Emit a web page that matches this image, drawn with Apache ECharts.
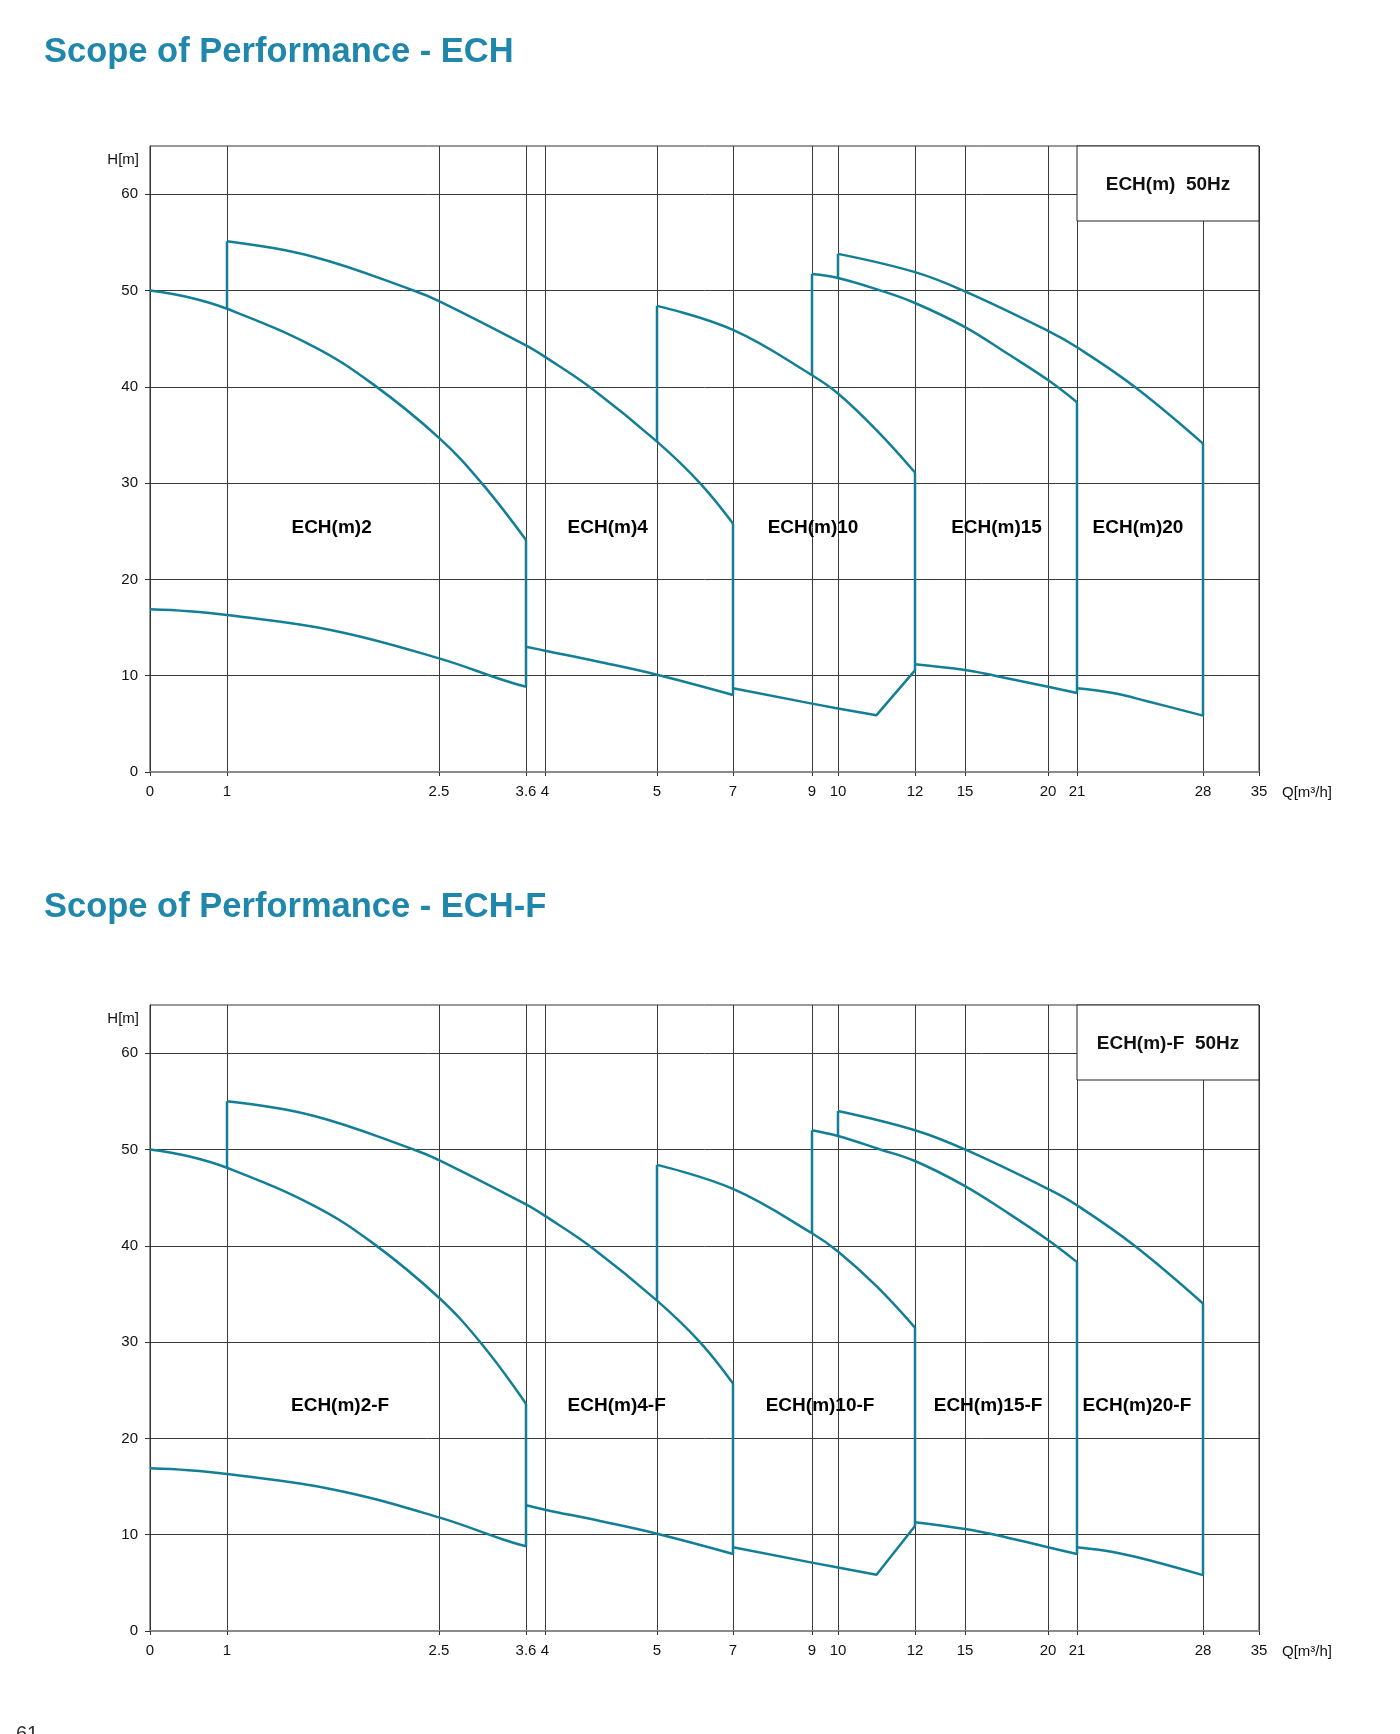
<!DOCTYPE html>
<html><head><meta charset="utf-8">
<script src="https://cdn.jsdelivr.net/npm/echarts@6/dist/echarts.min.js"></script>
<style>html,body{margin:0;padding:0;background:#fff}#c{width:1400px;height:1734px}</style>
</head><body><div id="c"></div>
<script>
// ---- axis definition (non-uniform Q scale) ----
const qTickValues = [0, 1, 2.5, 3.6, 4, 5, 7, 9, 10, 12, 15, 20, 21, 28, 35];
const qTickLabels = ['0', '1', '2.5', '3.6', '4', '5', '7', '9', '10', '12', '15', '20', '21', '28', '35'];
const qAxisStops  = [0, 77, 289, 376, 395, 507, 583, 662, 688, 765, 815, 898, 927, 1053, 1109];
const hTicks = [0, 10, 20, 30, 40, 50, 60];

// ---- ECH chart: curves [Q, H] ----
const ech2Upper  = [[0,50],[0.5,49.3],[1,48.1],[1.61,44.2],[2.03,40.3],[2.5,34.7],[3.04,30],[3.6,24.1]];
const ech2Lower  = [[0,16.9],[0.5,16.7],[1,16.3],[1.75,14.7],[2.5,11.8],[3.31,9.55],[3.6,8.85]];
const ech4Upper  = [[1,55.1],[1.61,53.5],[2.32,50],[2.5,48.9],[3.6,44.3],[4,43.1],[4.42,39.8],[5,34.3],[6.13,30],[7,25.8]];
const ech4Lower  = [[3.6,13.0],[4,12.6],[4.5,11.4],[5,10.1],[7,8.0]];
const ech10Upper = [[5,48.4],[7,45.9],[9,41.2],[10,39.3],[11,35.5],[12,31.1]];
const ech10Lower = [[7,8.7],[9,7.1],[10,6.6],[11,5.9],[12,10.55]];
const ech15Upper = [[9,51.7],[10,51.3],[11.1,50],[12,48.7],[15,46.2],[17.5,43.5],[20,40.7],[21,38.4]];
const ech15Lower = [[12,11.2],[15,10.6],[16.8,10],[20,8.85],[21,8.2]];
const ech20Upper = [[10,53.8],[12,51.9],[15,49.9],[20,45.8],[21,44.1],[24.2,40],[28,34.1]];
const ech20Lower = [[21,8.7],[23,8.2],[24.9,7.35],[28,5.85]];
// vertical limits [Q, Hlow, Hhigh]
const echVerticals = [[1,48.1,55.1],[3.6,8.85,24.1],[5,34.3,48.4],[7,8.0,25.8],[9,41.2,51.7],[10,51.3,53.8],[12,10.55,31.1],[21,8.2,38.4],[28,5.85,34.1]];
const echLabels = [[1.74,25.4,'ECH(m)2'],[4.56,25.4,'ECH(m)4'],[9.04,25.4,'ECH(m)10'],[16.9,25.4,'ECH(m)15'],[24.39,25.4,'ECH(m)20']];

// ---- ECH-F chart ----
const echF2Upper  = [[0,50],[0.5,49.3],[1,48.1],[1.61,44.2],[2.03,40.3],[2.5,34.6],[3.04,29.8],[3.6,23.6]];
const echF2Lower  = [[0,16.9],[0.5,16.7],[1,16.3],[1.75,14.7],[2.5,11.8],[3.31,9.5],[3.6,8.8]];
const echF4Upper  = [[1,55.0],[1.61,53.5],[2.32,50],[2.5,48.9],[3.6,44.3],[4,43.1],[4.42,39.8],[5,34.3],[6.13,30],[7,25.7]];
const echF4Lower  = [[3.6,13.05],[4,12.6],[4.5,11.4],[5,10.1],[7,8.0]];
const echF10Upper = [[5,48.4],[7,45.9],[9,41.3],[10,39.4],[11,35.8],[12,31.5]];
const echF10Lower = [[7,8.7],[9,7.1],[10,6.6],[11,5.85],[12,10.9]];
const echF15Upper = [[9,52.0],[10,51.4],[11.1,50],[12,48.8],[15,46.2],[17.5,43.5],[20,40.6],[21,38.3]];
const echF15Lower = [[12,11.3],[15,10.6],[16.8,10],[20,8.7],[21,8.0]];
const echF20Upper = [[10,54.0],[12,52.0],[15,50.0],[20,45.9],[21,44.2],[24.2,40],[28,34.0]];
const echF20Lower = [[21,8.7],[23,8.2],[24.9,7.4],[28,5.8]];
const echFVerticals = [[1,48.1,55.0],[3.6,8.8,23.6],[5,34.3,48.4],[7,8.0,25.7],[9,41.3,52.0],[10,51.4,54.0],[12,10.9,31.5],[21,8.0,38.3],[28,5.8,34.0]];
const echFLabels = [[1.80,23.4,'ECH(m)2-F'],[4.64,23.4,'ECH(m)4-F'],[9.31,23.4,'ECH(m)10-F'],[16.39,23.4,'ECH(m)15-F'],[24.33,23.4,'ECH(m)20-F']];

const titles = ['Scope of Performance - ECH', 'Scope of Performance - ECH-F'];
const boxTexts = ['ECH(m)  50Hz', 'ECH(m)-F  50Hz'];

// ---- helpers ----
function qToU(q) {
  for (let i = 1; i < qTickValues.length; i++) {
    if (q <= qTickValues[i]) {
      const a = qTickValues[i - 1], b = qTickValues[i];
      return qAxisStops[i - 1] + (q - a) / (b - a) * (qAxisStops[i] - qAxisStops[i - 1]);
    }
  }
  return qAxisStops[qAxisStops.length - 1];
}
const tf = arr => arr.map(p => [qToU(p[0]), p[1]]);

const FONT = 'Liberation Sans, Arial, sans-serif';
const CURVE = '#127f97';
const GRIDC = '#3a3a3a';
const PL = 150, PW = 1109, PH = 626;
const tops = [146, 1005];

const chart = echarts.init(document.getElementById('c'), null, {renderer: 'canvas'});

const grids = [], xAxes = [], yAxes = [], series = [], graphics = [];
const sets = [
  {curves: [ech2Upper, ech2Lower, ech4Upper, ech4Lower, ech10Upper, ech15Upper, ech15Lower, ech20Upper, ech20Lower], vee: ech10Lower, verts: echVerticals, labels: echLabels},
  {curves: [echF2Upper, echF2Lower, echF4Upper, echF4Lower, echF10Upper, echF15Upper, echF15Lower, echF20Upper, echF20Lower], vee: echF10Lower, verts: echFVerticals, labels: echFLabels}
];

sets.forEach((s, k) => {
  const top = tops[k];
  grids.push({left: PL, top: top, width: PW, height: PH, show: true, borderColor: '#333', borderWidth: 1, backgroundColor: 'transparent'});
  xAxes.push({
    type: 'value', gridIndex: k, min: 0, max: qAxisStops[qAxisStops.length - 1],
    axisLine: {show: true, onZero: false, lineStyle: {color: '#8a8a8a', width: 2}},
    axisTick: {show: true, customValues: qAxisStops, length: 4, lineStyle: {color: '#333'}},
    axisLabel: {show: true, customValues: qAxisStops, margin: 12, fontSize: 15, color: '#111', fontFamily: FONT, hideOverlap: false,
      formatter: v => { let bi = 0, bd = 1e9; qAxisStops.forEach((u, i) => { const d = Math.abs(u - v); if (d < bd) { bd = d; bi = i; } }); return qTickLabels[bi]; }},
    splitLine: {show: true, lineStyle: {color: GRIDC, width: 1}}
  });
  yAxes.push({
    type: 'value', gridIndex: k, min: 0, max: 65,
    axisLine: {show: true, onZero: false, lineStyle: {color: '#333', width: 1}},
    axisTick: {show: true, customValues: hTicks, length: 5, lineStyle: {color: '#333'}},
    axisLabel: {show: true, customValues: hTicks, margin: 12, fontSize: 15, color: '#111', fontFamily: FONT},
    splitLine: {show: true, lineStyle: {color: GRIDC, width: 1}}
  });
  s.curves.forEach(c => series.push({
    type: 'line', xAxisIndex: k, yAxisIndex: k, data: tf(c), smooth: 0.4,
    symbol: 'none', silent: true, lineStyle: {color: CURVE, width: 2.5}, z: 3
  }));
  series.push({type: 'line', xAxisIndex: k, yAxisIndex: k, data: tf(s.vee), smooth: false,
    symbol: 'none', silent: true, lineStyle: {color: CURVE, width: 2.5}, z: 3});
  s.verts.forEach(v => series.push({
    type: 'line', xAxisIndex: k, yAxisIndex: k, data: [[qToU(v[0]), v[1]], [qToU(v[0]), v[2]]],
    symbol: 'none', silent: true, lineStyle: {color: CURVE, width: 2.5}, z: 3
  }));
  series.push({
    type: 'scatter', xAxisIndex: k, yAxisIndex: k, symbol: 'circle', symbolSize: 1, itemStyle: {color: '#fff', opacity: 1}, silent: true, z: 4,
    data: s.labels.map(l => [qToU(l[0]), l[1], l[2]]),
    label: {show: true, position: 'top', distance: -10, formatter: p => p.data[2], fontSize: 19, fontWeight: 'bold',
      color: '#000', opacity: 1, textBorderWidth: 0, textShadowBlur: 0, fontFamily: FONT}
  });
  // header box
  const bx = PL + qToU(21), bw = PL + PW - bx, bh = 75;
  graphics.push({type: 'rect', z: 100, shape: {x: bx, y: top, width: bw, height: bh}, style: {fill: '#fff', stroke: '#222', lineWidth: 1}});
  graphics.push({type: 'text', z: 101, x: bx + bw / 2, y: top + bh / 2 + 1, style: {text: boxTexts[k], fill: '#111', font: 'bold 19px ' + FONT, textAlign: 'center', textVerticalAlign: 'middle'}});
  // axis names
  graphics.push({type: 'text', z: 101, x: 139, y: top + 14, style: {text: 'H[m]', fill: '#111', font: '15px ' + FONT, textAlign: 'right', textVerticalAlign: 'middle'}});
  graphics.push({type: 'text', z: 101, x: 1282, y: top + PH + 21, style: {text: 'Q[m³/h]', fill: '#111', font: '15px ' + FONT, textAlign: 'left', textVerticalAlign: 'middle'}});
});

graphics.push({type: 'text', z: 101, x: 16, y: 1724, style: {text: '61', fill: '#333', font: '20px ' + FONT, textAlign: 'left', textVerticalAlign: 'top'}});

chart.setOption({
  animation: false,
  backgroundColor: '#fff',
  title: titles.map((t, i) => ({text: t, left: 44, top: i === 0 ? 35 : 890, padding: 0,
    textStyle: {fontSize: 34.5, fontWeight: 'bold', color: '#1f87ab', fontFamily: FONT}})),
  grid: grids, xAxis: xAxes, yAxis: yAxes, series: series, graphic: graphics
});
</script></body></html>
